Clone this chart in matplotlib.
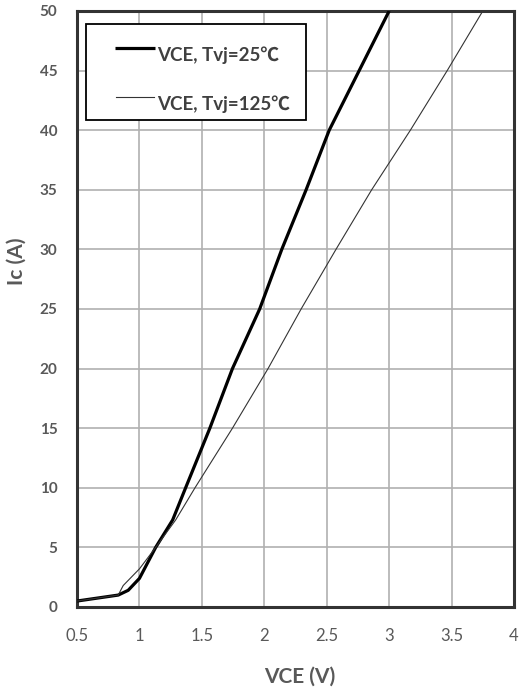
import matplotlib
matplotlib.use("Agg")
import matplotlib.pyplot as plt
from matplotlib.patches import Rectangle

# Data
vce_25 = [0.5, 0.83, 0.91, 1.0, 1.13, 1.266, 1.37, 1.564, 1.745, 1.963, 2.14, 2.335, 2.52, 2.76, 3.0]
ic_25 = [0.5, 1.0, 1.4, 2.4, 5.0, 7.3, 10, 15, 20, 25, 30, 35, 40, 45, 50]
vce_125 = [0.5, 0.83, 0.87, 1.0, 1.13, 1.29, 1.445, 1.745, 2.03, 2.295, 2.574, 2.86, 3.17, 3.465, 3.75]
ic_125 = [0.5, 1.0, 1.8, 3.2, 5.0, 7.3, 10, 15, 20, 25, 30, 35, 40, 45, 50]
x_ticks = [0.5, 1, 1.5, 2, 2.5, 3, 3.5, 4]
x_tick_labels = ["0.5", "1", "1.5", "2", "2.5", "3", "3.5", "4"]
y_ticks = [0, 5, 10, 15, 20, 25, 30, 35, 40, 45, 50]
label_25 = "VCE, Tvj=25℃"
label_125 = "VCE, Tvj=125℃"

FONT = ["Lato", "Noto Sans CJK SC", "DejaVu Sans"]
GRAY = "#595959"

fig = plt.figure(figsize=(5.21, 6.93), dpi=100)
ax = fig.add_axes([77 / 521, 86 / 693, 437 / 521, 596 / 693])

ax.plot(vce_25, ic_25, color="black", lw=2.3, solid_capstyle="butt", zorder=3)
ax.plot(vce_125, ic_125, color="#333333", lw=0.8, zorder=3)

ax.set_xlim(0.5, 4)
ax.set_ylim(0, 50)
ax.set_xticks(x_ticks)
ax.set_xticklabels(x_tick_labels)
ax.set_yticks(y_ticks)
ax.grid(True, color="#b0b0b0", lw=1.2)
ax.set_axisbelow(True)
for s in ax.spines.values():
    s.set_color("#333333")
    s.set_linewidth(2.2)

ax.tick_params(axis="both", length=0)
ax.tick_params(axis="x", pad=15)
ax.tick_params(axis="y", pad=14)
for lab in ax.get_xticklabels():
    lab.set_family(FONT)
    lab.set_fontsize(12)
    lab.set_color(GRAY)
for lab in ax.get_yticklabels():
    lab.set_family(FONT)
    lab.set_fontsize(11)
    lab.set_fontweight("bold")
    lab.set_color(GRAY)

fig.text(300 / 521, 1 - 677 / 693, "VCE (V)", ha="center", va="center",
         family=FONT, fontsize=15, fontweight="bold", color=GRAY)
fig.text(17 / 521, 1 - 261 / 693, "Ic (A)", ha="center", va="center", rotation=90,
         family=FONT, fontsize=15, fontweight="bold", color=GRAY)

# Legend (manual, Excel-like)
def ax_x(px):
    return (px - 77) / 437

def ax_y(py):
    return (607 - py) / 596

ax.add_patch(Rectangle((ax_x(86), ax_y(120)), ax_x(306) - ax_x(86), ax_y(24) - ax_y(120),
                       transform=ax.transAxes, facecolor="white", edgecolor="black",
                       lw=1.3, zorder=5))
ax.plot([ax_x(115), ax_x(155)], [ax_y(48), ax_y(48)], transform=ax.transAxes,
        color="black", lw=2.3, solid_capstyle="butt", zorder=6)
ax.plot([ax_x(116), ax_x(154)], [ax_y(97), ax_y(97)], transform=ax.transAxes,
        color="#333333", lw=0.8, zorder=6)
ax.text(ax_x(157), ax_y(55), label_25, transform=ax.transAxes, ha="left", va="center",
        family=FONT, fontsize=13.5, fontweight="bold", color="#404040", zorder=6)
ax.text(ax_x(157), ax_y(104), label_125, transform=ax.transAxes, ha="left", va="center",
        family=FONT, fontsize=13.5, fontweight="bold", color="#404040", zorder=6)

fig.savefig("out.png", dpi=100)
